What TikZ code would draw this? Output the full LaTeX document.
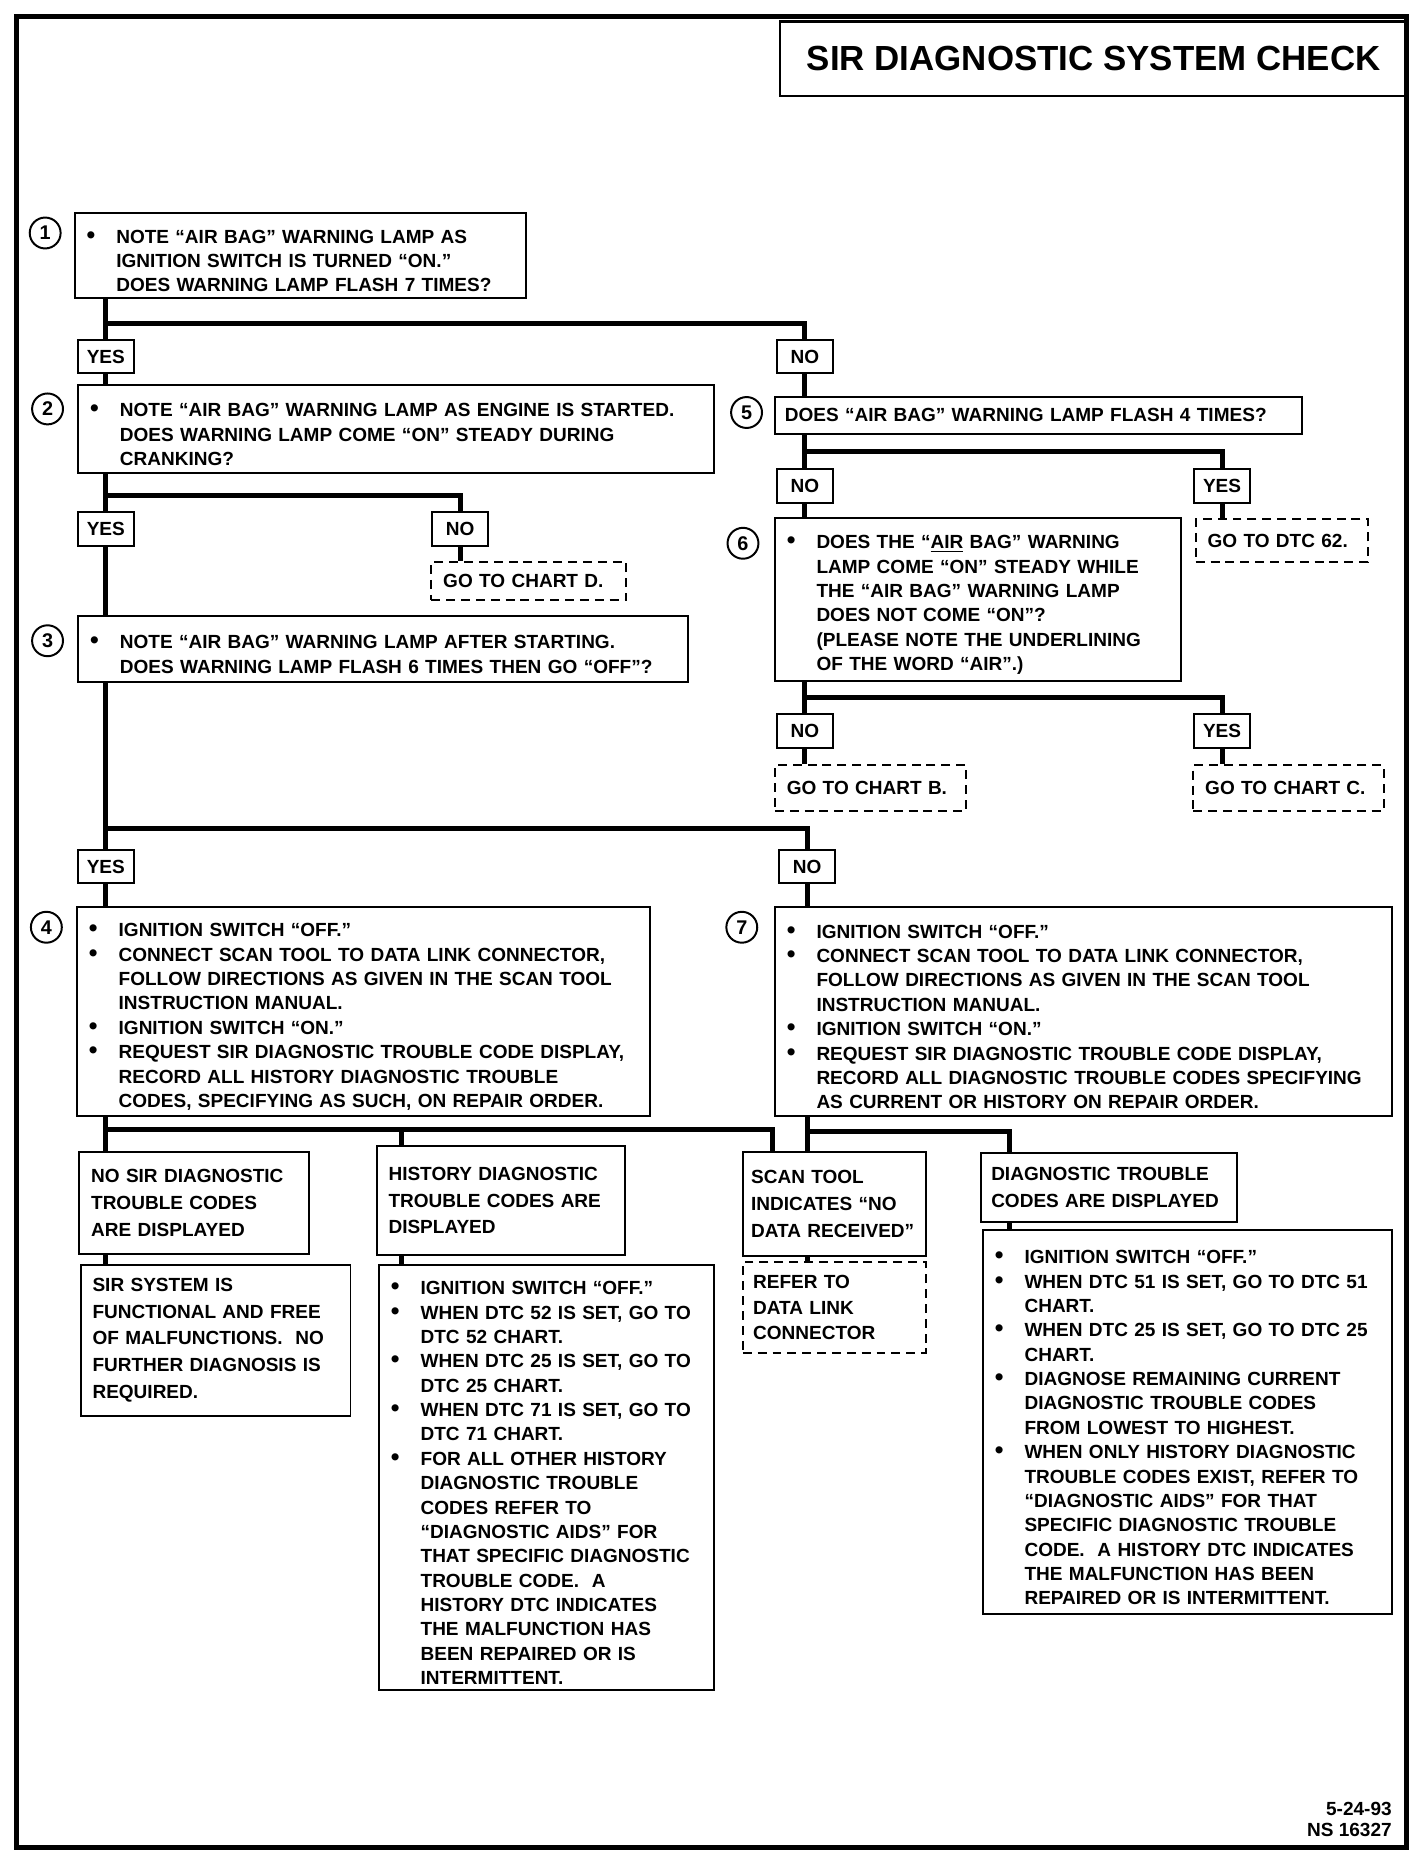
\documentclass[tikz,border=0pt]{standalone}
\usepackage{fontspec}
\setmainfont{Liberation Sans}
\usepackage{tikz}
\usetikzlibrary{positioning}

\newcommand{\bul}{\par\hangindent=16pt\hangafter=1\noindent\makebox[16pt][l]{\hspace{1pt}{\fontsize{12.5}{12}\selectfont\textbullet}}}
\newcommand{\nl}{\newline}

\begin{document}
\begin{tikzpicture}[x=0.6pt, y=-0.6pt,
  conn/.style={line width=2.5pt},
  tbox/.style={draw, line width=1pt, anchor=north west, inner xsep=5pt, inner ysep=1.5pt, align=left, font=\bfseries\fontsize{9.6}{12.3}\selectfont},
  hbox/.style={tbox, font=\bfseries\fontsize{9.6}{13.5}\selectfont},
  gobox/.style={tbox, dash pattern=on 4.5pt off 3pt},
  ans/.style={draw, line width=1pt, minimum width=28pt, minimum height=17pt, inner sep=0pt, font=\bfseries\fontsize{9.6}{11}\selectfont},
  num/.style={circle, draw, line width=1pt, minimum size=15.6pt, inner sep=0pt, font=\bfseries\fontsize{10}{10}\selectfont}]
\useasboundingbox (0,0) rectangle (1198,1568);
\draw[line width=2.2pt] (14,14) rectangle (1183,1554);
\node[draw, line width=1.2pt, anchor=north west, minimum width=316.8pt, minimum height=37.8pt, inner sep=0pt, font=\bfseries\fontsize{17.6}{20}\selectfont] (title) at (655,17) {SIR DIAGNOSTIC SYSTEM CHECK};

\node[num] (n1) at (38,196) {1};
\node[tbox, text width=218pt, minimum height=43.2pt] (q1) at (62,178) {\bul NOTE “AIR BAG” WARNING LAMP AS\nl IGNITION SWITCH IS TURNED “ON.”\nl DOES WARNING LAMP FLASH 7 TIMES?\par};
\node[ans] (yes1) at (89,300) {YES};
\node[ans] (no1) at (677,300) {NO};

\node[num] (n2) at (40,344) {2};
\node[tbox, text width=311pt, minimum height=44.4pt] (q2) at (65,323) {\bul NOTE “AIR BAG” WARNING LAMP AS ENGINE IS STARTED.\nl DOES WARNING LAMP COME “ON” STEADY DURING\nl CRANKING?\par};
\node[ans] (yes2) at (89,445) {YES};
\node[ans] (no2) at (387,445) {NO};
\node[gobox, text width=86.4pt, inner xsep=6pt, minimum height=19.2pt] (chartd) at (362,472) {GO TO CHART D.};

\node[num] (n3) at (40,539) {3};
\node[tbox, text width=297.8pt, minimum height=33.6pt] (q3) at (65,517) {\bul NOTE “AIR BAG” WARNING LAMP AFTER STARTING.\nl DOES WARNING LAMP FLASH 6 TIMES THEN GO “OFF”?\par};
\node[ans] (yes3) at (89,729) {YES};
\node[ans] (no3) at (679,729) {NO};

\node[num] (n5) at (628,347) {5};
\node[tbox, text width=255.8pt, minimum height=18.6pt] (q5) at (651,333) {DOES “AIR BAG” WARNING LAMP FLASH 4 TIMES?};
\node[ans] (no5) at (677,409) {NO};
\node[ans] (yes5) at (1028,409) {YES};
\node[gobox, text width=75pt, inner xsep=6pt, minimum height=21.6pt] (dtc62) at (1005,436) {GO TO DTC 62.};

\node[num] (n6) at (625,457) {6};
\node[tbox, text width=195.2pt, minimum height=82.2pt] (q6) at (651,435) {\bul DOES THE “\underline{AIR} BAG” WARNING\nl LAMP COME “ON” STEADY WHILE\nl THE “AIR BAG” WARNING LAMP\nl DOES NOT COME “ON”?\nl (PLEASE NOTE THE UNDERLINING\nl OF THE WORD “AIR”.)\par};
\node[ans] (no6) at (677,615) {NO};
\node[ans] (yes6) at (1028,615) {YES};
\node[gobox, text width=84.6pt, inner xsep=6pt, minimum height=22.8pt] (chartb) at (651,643) {GO TO CHART B.};
\node[gobox, text width=84pt, inner xsep=6pt, minimum height=22.8pt] (chartc) at (1003,643) {GO TO CHART C.};

\node[num] (n4) at (39,780) {4};
\node[tbox, text width=279.2pt, minimum height=105.6pt] (q4) at (64,762) {\bul IGNITION SWITCH “OFF.” \bul CONNECT SCAN TOOL TO DATA LINK CONNECTOR,\nl FOLLOW DIRECTIONS AS GIVEN IN THE SCAN TOOL\nl INSTRUCTION MANUAL. \bul IGNITION SWITCH “ON.” \bul REQUEST SIR DIAGNOSTIC TROUBLE CODE DISPLAY,\nl RECORD ALL HISTORY DIAGNOSTIC TROUBLE\nl CODES, SPECIFYING AS SUCH, ON REPAIR ORDER.\par};
\node[num] (n7) at (624,780) {7};
\node[tbox, text width=301.4pt, minimum height=105.6pt] (q7) at (651,762) {\bul IGNITION SWITCH “OFF.” \bul CONNECT SCAN TOOL TO DATA LINK CONNECTOR,\nl FOLLOW DIRECTIONS AS GIVEN IN THE SCAN TOOL\nl INSTRUCTION MANUAL. \bul IGNITION SWITCH “ON.” \bul REQUEST SIR DIAGNOSTIC TROUBLE CODE DISPLAY,\nl RECORD ALL DIAGNOSTIC TROUBLE CODES SPECIFYING\nl AS CURRENT OR HISTORY ON REPAIR ORDER.\par};

\node[hbox, text width=104pt, inner xsep=5.9pt, minimum height=51.6pt] (nosir) at (66,968) {NO SIR DIAGNOSTIC\\ TROUBLE CODES\\ ARE DISPLAYED};
\node[hbox, text width=124.2pt, inner xsep=6pt, minimum height=76.2pt] (sirok) at (67,1063) {SIR SYSTEM IS\\ FUNCTIONAL AND FREE\\ OF MALFUNCTIONS.\ \ NO\\ FURTHER DIAGNOSIS IS\\ REQUIRED.};
\node[hbox, text width=113.4pt, inner xsep=6pt, minimum height=55.2pt] (hist) at (316,963) {HISTORY DIAGNOSTIC\\ TROUBLE CODES ARE\\ DISPLAYED};
\node[tbox, text width=159.2pt, minimum height=214.8pt, inner ysep=1pt] (histl) at (318,1063) {\bul IGNITION SWITCH “OFF.” \bul WHEN DTC 52 IS SET, GO TO\nl DTC 52 CHART. \bul WHEN DTC 25 IS SET, GO TO\nl DTC 25 CHART. \bul WHEN DTC 71 IS SET, GO TO\nl DTC 71 CHART. \bul FOR ALL OTHER HISTORY\nl DIAGNOSTIC TROUBLE\nl CODES REFER TO\nl “DIAGNOSTIC AIDS” FOR\nl THAT SPECIFIC DIAGNOSTIC\nl TROUBLE CODE.\ \ A\nl HISTORY DTC INDICATES\nl THE MALFUNCTION HAS\nl BEEN REPAIRED OR IS\nl INTERMITTENT.\par};
\node[hbox, text width=84pt, inner xsep=4.2pt, minimum height=52.8pt] (scan) at (624,968) {SCAN TOOL\\ INDICATES “NO\\ DATA RECEIVED”};
\node[gobox, text width=82pt, inner xsep=5.2pt, minimum height=45.6pt, font=\bfseries\fontsize{9.6}{12.8}\selectfont] (refer) at (624,1061) {REFER TO\\ DATA LINK\\ CONNECTOR};
\node[hbox, text width=118.8pt, inner xsep=5.4pt, minimum height=34.8pt] (diag) at (824,969) {DIAGNOSTIC TROUBLE\\ CODES ARE DISPLAYED};
\node[tbox, text width=196.4pt, minimum height=193.8pt] (diagl) at (826,1034) {\bul IGNITION SWITCH “OFF.” \bul WHEN DTC 51 IS SET, GO TO DTC 51\nl CHART. \bul WHEN DTC 25 IS SET, GO TO DTC 25\nl CHART. \bul DIAGNOSE REMAINING CURRENT\nl DIAGNOSTIC TROUBLE CODES\nl FROM LOWEST TO HIGHEST. \bul WHEN ONLY HISTORY DIAGNOSTIC\nl TROUBLE CODES EXIST, REFER TO\nl “DIAGNOSTIC AIDS” FOR THAT\nl SPECIFIC DIAGNOSTIC TROUBLE\nl CODE.\ \ A HISTORY DTC INDICATES\nl THE MALFUNCTION HAS BEEN\nl REPAIRED OR IS INTERMITTENT.\par};

\node[anchor=south east, align=right, inner sep=0pt, font=\bfseries\fontsize{9.6}{10.5}\selectfont] (code) at (1171,1545) {5-24-93\\ NS 16327};

\coordinate (j1) at (89,272);
\coordinate (j2) at (89,417);
\coordinate (j3) at (89,697);
\coordinate (j5) at (677,380);
\coordinate (j6) at (677,587);
\coordinate (j4) at (89,950);
\coordinate (h4) at (338,950);
\coordinate (k4) at (650,950);
\coordinate (j7) at (679,952);
\coordinate (k7) at (849,952);

\draw[conn] (q1.south -| j1) -- (yes1.north);
\draw[conn] (j1) -| (no1.north);
\draw[conn] (yes1.south) -- (q2.north -| yes1);
\draw[conn] (q2.south -| j2) -- (yes2.north);
\draw[conn] (j2) -| (no2.north);
\draw[conn] (no2.south) -- (chartd.north -| no2);
\draw[conn] (yes2.south) -- (q3.north -| yes2);
\draw[conn] (q3.south -| j3) -- (yes3.north);
\draw[conn] (j3) -| (no3.north);
\draw[conn] (yes3.south) -- (q4.north -| yes3);
\draw[conn] (no3.south) -- (q7.north -| no3);
\draw[conn] (no1.south) -- (q5.north -| no1);
\draw[conn] (q5.south -| j5) -- (no5.north);
\draw[conn] (j5) -| (yes5.north);
\draw[conn] (yes5.south) -- (dtc62.north -| yes5);
\draw[conn] (no5.south) -- (q6.north -| no5);
\draw[conn] (q6.south -| j6) -- (no6.north);
\draw[conn] (j6) -| (yes6.north);
\draw[conn] (no6.south) -- (chartb.north -| no6);
\draw[conn] (yes6.south) -- (chartc.north -| yes6);
\draw[conn] (q4.south -| j4) -- (nosir.north -| j4);
\draw[conn] (j4) -- (k4) -- (scan.north -| k4);
\draw[conn] (h4) -- (hist.north -| h4);
\draw[conn] (q7.south -| j7) -- (scan.north -| j7);
\draw[conn] (j7) -- (k7) -- (diag.north -| k7);
\draw[conn] (nosir.south -| j4) -- (sirok.north -| j4);
\draw[conn] (hist.south -| h4) -- (histl.north -| h4);
\draw[conn] (scan.south -| j7) -- (refer.north -| j7);
\draw[conn] (diag.south -| k7) -- (diagl.north -| k7);
\end{tikzpicture}
\end{document}
